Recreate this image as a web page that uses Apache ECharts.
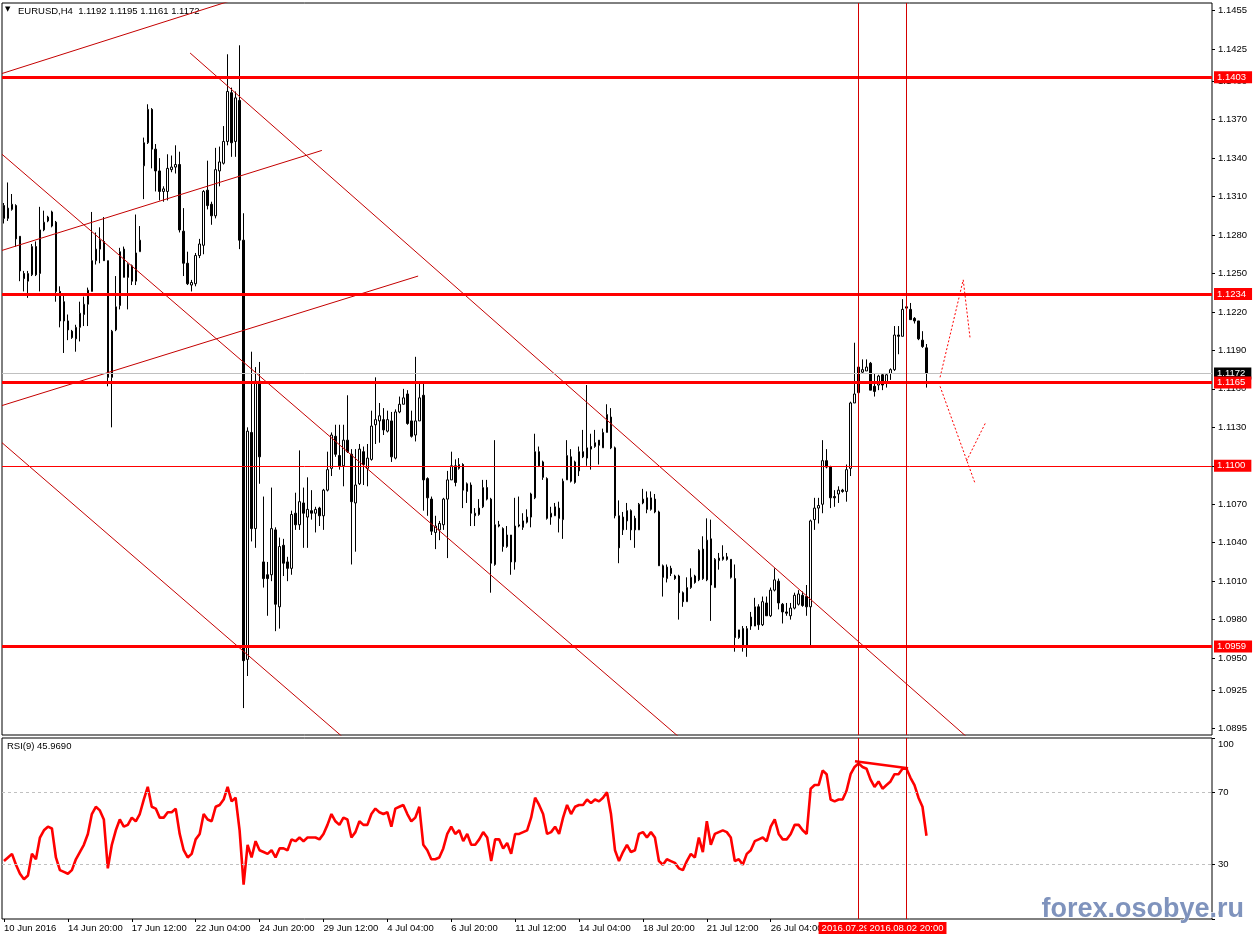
<!DOCTYPE html>
<html><head><meta charset="utf-8">
<script src="https://cdn.jsdelivr.net/npm/echarts@6/dist/echarts.min.js"></script>
<style>html,body{margin:0;padding:0;background:#fff}#c{width:1254px;height:941px}</style>
</head><body><div id="c"></div><script>
const symbolName = 'EURUSD,H4';
const opens = [
1.1303,1.1293,1.1300,1.1303,1.1279,1.1250,1.1244,1.1249,1.1271,1.1250,
1.1284,1.1291,1.1287,1.1290,1.1236,1.1228,1.1213,1.1205,1.1199,1.1208,
1.1218,1.1226,1.1236,1.1260,1.1269,1.1275,1.1260,1.1169,1.1206,1.1225,
1.1269,1.1257,1.1256,1.1244,1.1267,1.1334,1.1352,1.1378,1.1347,1.1330,
1.1314,1.1314,1.1331,1.1333,1.1335,1.1283,1.1258,1.1241,1.1242,1.1264,
1.1272,1.1315,1.1304,1.1295,1.1330,1.1336,1.1353,1.1391,1.1353,1.1385,
1.1276,1.0949,1.1126,1.1051,1.1166,1.1025,1.1015,1.1015,1.1050,1.0990,
1.1038,1.1025,1.1020,1.1063,1.1054,1.1071,1.1060,1.1065,1.1063,1.1067,
1.1061,1.1081,1.1098,1.1123,1.1108,1.1100,1.1120,1.1109,1.1071,1.1086,
1.1111,1.1098,1.1105,1.1132,1.1135,1.1136,1.1127,1.1135,1.1106,1.1142,
1.1148,1.1156,1.1135,1.1124,1.1135,1.1155,1.1090,1.1074,1.1048,1.1050,
1.1054,1.1074,1.1089,1.1100,1.1098,1.1101,1.1080,1.1085,1.1061,1.1062,
1.1068,1.1083,1.1074,1.1023,1.1054,1.1051,1.1037,1.1046,1.1025,1.1053,
1.1052,1.1056,1.1060,1.1075,1.1111,1.1103,1.1090,1.1060,1.1061,1.1067,
1.1058,1.1089,1.1107,1.1087,1.1096,1.1111,1.1106,1.1115,1.1115,1.1120,
1.1114,1.1126,1.1138,1.1114,1.1061,1.1050,1.1057,1.1065,1.1059,1.1050,
1.1071,1.1075,1.1066,1.1074,1.1064,1.1022,1.1012,1.1020,1.1014,1.1014,
1.1001,1.0994,1.1005,1.1014,1.1011,1.1035,1.1011,1.1043,1.1005,1.1026,
1.1027,1.1029,1.1027,1.1012,1.0966,1.0973,1.0959,1.0975,1.0975,1.0990,
1.0976,1.0993,1.0983,1.1003,1.1010,1.0992,1.0986,1.0983,1.0989,1.0992,
1.0999,1.0998,1.0990,1.1058,1.1067,1.1070,1.1104,1.1099,1.1076,1.1078,
1.1081,1.1080,1.1098,1.1149,1.1157,1.1173,1.1174,1.1180,1.1162,1.1163,
1.1171,1.1165,1.1172,1.1175,1.1202,1.1201,1.1224,1.1222,1.1215,1.1213,
1.1198,1.1192];
const closes = [
1.1293,1.1301,1.1304,1.1277,1.1252,1.1246,1.1250,1.1271,1.1249,1.1284,
1.1290,1.1294,1.1298,1.1236,1.1213,1.1213,1.1206,1.1200,1.1208,1.1219,
1.1226,1.1237,1.1260,1.1269,1.1276,1.1260,1.1169,1.1205,1.1224,1.1267,
1.1247,1.1247,1.1244,1.1266,1.1276,1.1352,1.1378,1.1347,1.1330,1.1314,
1.1316,1.1332,1.1333,1.1335,1.1284,1.1258,1.1242,1.1243,1.1264,1.1273,
1.1314,1.1303,1.1295,1.1331,1.1337,1.1353,1.1392,1.1352,1.1387,1.1276,
1.0948,1.1127,1.1051,1.1166,1.1107,1.1012,1.1012,1.1051,1.0992,1.1037,
1.1024,1.1020,1.1062,1.1054,1.1072,1.1063,1.1066,1.1063,1.1066,1.1061,
1.1081,1.1097,1.1124,1.1109,1.1100,1.1120,1.1111,1.1072,1.1085,1.1113,
1.1101,1.1106,1.1131,1.1136,1.1139,1.1128,1.1136,1.1107,1.1142,1.1148,
1.1153,1.1133,1.1123,1.1135,1.1153,1.1089,1.1075,1.1049,1.1053,1.1055,
1.1074,1.1089,1.1100,1.1087,1.1101,1.1081,1.1086,1.1063,1.1063,1.1067,
1.1083,1.1074,1.1024,1.1054,1.1053,1.1037,1.1046,1.1025,1.1053,1.1054,
1.1057,1.1060,1.1078,1.1111,1.1100,1.1091,1.1059,1.1063,1.1068,1.1059,
1.1088,1.1108,1.1088,1.1103,1.1111,1.1107,1.1114,1.1113,1.1118,1.1116,
1.1126,1.1140,1.1114,1.1061,1.1036,1.1060,1.1065,1.1050,1.1050,1.1070,
1.1074,1.1066,1.1075,1.1064,1.1022,1.1013,1.1021,1.1016,1.1012,1.1001,
1.0994,1.1005,1.1013,1.1009,1.1034,1.1012,1.1042,1.1007,1.1027,1.1028,
1.1029,1.1027,1.1013,1.0966,1.0972,1.0959,1.0973,1.0982,1.0990,1.0976,
1.0994,1.0983,1.1003,1.1011,1.0993,1.0986,1.0985,1.0989,1.0999,1.1000,
1.0991,1.0990,1.1057,1.1067,1.1069,1.1104,1.1099,1.1075,1.1075,1.1081,
1.1080,1.1097,1.1149,1.1156,1.1177,1.1175,1.1177,1.1159,1.1158,1.1170,
1.1163,1.1171,1.1175,1.1202,1.1201,1.1222,1.1223,1.1214,1.1213,1.1199,
1.1193,1.1172];
const lows = [
1.1289,1.1291,1.1299,1.1271,1.1244,1.1236,1.1231,1.1248,1.1248,1.1236,
1.1283,1.1290,1.1286,1.1228,1.1208,1.1188,1.1198,1.1199,1.1189,1.1197,
1.1209,1.1209,1.1236,1.1257,1.1258,1.1260,1.1162,1.1130,1.1205,1.1222,
1.1247,1.1222,1.1241,1.1241,1.1267,1.1308,1.1351,1.1332,1.1314,1.1307,
1.1306,1.1307,1.1329,1.1328,1.1282,1.1248,1.1241,1.1236,1.1240,1.1262,
1.1265,1.1300,1.1288,1.1293,1.1318,1.1335,1.1350,1.1341,1.1341,1.1269,
1.0911,1.0936,1.1041,1.1036,1.1086,1.1005,1.0983,1.1010,1.0971,1.0973,
1.1014,1.1010,1.1015,1.1050,1.1050,1.1036,1.1036,1.1058,1.1048,1.1053,
1.1050,1.1080,1.1092,1.1107,1.1097,1.1084,1.1110,1.1023,1.1033,1.1085,
1.1085,1.1084,1.1104,1.1117,1.1118,1.1124,1.1126,1.1103,1.1105,1.1141,
1.1148,1.1132,1.1122,1.1119,1.1135,1.1065,1.1061,1.1046,1.1035,1.1042,
1.1050,1.1028,1.1089,1.1084,1.1097,1.1067,1.1071,1.1053,1.1053,1.1061,
1.1067,1.1073,1.1001,1.1022,1.1052,1.1033,1.1036,1.1015,1.1019,1.1052,
1.1050,1.1055,1.1052,1.1074,1.1099,1.1089,1.1058,1.1054,1.1061,1.1048,
1.1043,1.1089,1.1087,1.1086,1.1092,1.1106,1.1100,1.1097,1.1114,1.1101,
1.1114,1.1126,1.1113,1.1059,1.1024,1.1046,1.1050,1.1042,1.1036,1.1050,
1.1070,1.1063,1.1065,1.1063,1.1022,1.0998,1.1009,1.1014,1.1011,1.0980,
1.0990,1.0994,1.1004,1.1008,1.1010,1.1011,1.1010,1.0979,1.1005,1.1019,
1.1026,1.1026,1.1012,1.0955,1.0965,1.0955,1.0951,1.0972,1.0975,1.0972,
1.0975,1.0983,1.0982,1.1002,1.0988,1.0977,1.0983,1.0980,1.0988,1.0991,
1.0990,1.0983,1.0960,1.1050,1.1055,1.1063,1.1098,1.1067,1.1068,1.1071,
1.1079,1.1072,1.1092,1.1149,1.1156,1.1172,1.1174,1.1159,1.1154,1.1159,
1.1159,1.1161,1.1167,1.1174,1.1187,1.1201,1.1222,1.1214,1.1211,1.1198,
1.1192,1.1161];
const highs = [
1.1305,1.1321,1.1312,1.1304,1.1279,1.1252,1.1252,1.1273,1.1275,1.1302,
1.1299,1.1295,1.1299,1.1291,1.1240,1.1234,1.1218,1.1206,1.1210,1.1228,
1.1232,1.1239,1.1298,1.1282,1.1286,1.1294,1.1260,1.1206,1.1248,1.1270,
1.1271,1.1258,1.1257,1.1296,1.1287,1.1356,1.1382,1.1379,1.1351,1.1340,
1.1318,1.1343,1.1342,1.1350,1.1345,1.1301,1.1267,1.1245,1.1266,1.1277,
1.1315,1.1338,1.1306,1.1348,1.1349,1.1365,1.1421,1.1395,1.1392,1.1428,
1.1297,1.1130,1.1189,1.1177,1.1181,1.1076,1.1025,1.1083,1.1052,1.1044,
1.1043,1.1029,1.1065,1.1079,1.1112,1.1083,1.1091,1.1081,1.1068,1.1068,
1.1082,1.1111,1.1126,1.1132,1.1132,1.1132,1.1155,1.1113,1.1113,1.1117,
1.1115,1.1117,1.1143,1.1169,1.1149,1.1145,1.1143,1.1142,1.1144,1.1154,
1.1160,1.1159,1.1143,1.1185,1.1166,1.1166,1.1091,1.1076,1.1061,1.1057,
1.1075,1.1096,1.1111,1.1105,1.1106,1.1102,1.1087,1.1087,1.1067,1.1074,
1.1089,1.1089,1.1075,1.1120,1.1057,1.1052,1.1053,1.1046,1.1075,1.1076,
1.1063,1.1066,1.1079,1.1125,1.1115,1.1104,1.1091,1.1068,1.1071,1.1072,
1.1090,1.1120,1.1113,1.1104,1.1115,1.1128,1.1163,1.1125,1.1128,1.1120,
1.1129,1.1148,1.1145,1.1115,1.1073,1.1064,1.1071,1.1066,1.1061,1.1071,
1.1082,1.1080,1.1080,1.1078,1.1065,1.1023,1.1023,1.1022,1.1015,1.1015,
1.1002,1.1013,1.1020,1.1015,1.1035,1.1045,1.1059,1.1058,1.1028,1.1032,
1.1038,1.1032,1.1027,1.1023,1.0972,1.0975,1.0975,1.0986,1.0997,1.0992,
1.0998,1.0998,1.1005,1.1020,1.1012,1.0993,1.0993,1.0993,1.1001,1.1003,
1.1002,1.1007,1.1058,1.1075,1.1075,1.1120,1.1113,1.1100,1.1081,1.1084,
1.1082,1.1101,1.1150,1.1196,1.1177,1.1183,1.1183,1.1181,1.1172,1.1171,
1.1172,1.1172,1.1176,1.1209,1.1209,1.1230,1.1226,1.1227,1.1216,1.1213,
1.1205,1.1195];
const rsi = [
32,34,36,30,25,22,24,36,33,45,
49,51,50,34,27,26,25,27,33,37,
41,47,58,62,60,55,28,41,49,55,
51,52,56,54,58,66,73,62,61,56,
56,59,59,61,47,38,34,36,44,47,
58,55,54,62,63,66,73,65,67,49,
19,41,34,43,38,37,36,38,34,39,
39,38,44,43,45,43,45,45,45,44,
47,52,58,54,52,56,55,45,48,54,
52,52,58,61,59,58,59,51,61,62,
63,58,54,56,62,41,38,33,33,34,
39,47,51,47,49,43,47,41,41,44,
48,45,32,44,44,39,42,36,47,47,
48,49,56,67,63,58,47,48,51,47,
56,63,58,62,63,63,66,64,66,65,
67,70,58,38,32,37,41,37,38,47,
48,45,48,45,32,30,33,32,31,28,
27,32,36,34,45,37,54,41,47,48,
49,48,45,32,33,30,36,38,43,44,
45,43,51,55,47,44,44,47,52,52,
49,47,72,74,74,82,80,66,65,66,
66,71,80,84,86,84,83,77,73,76,
72,74,76,80,80,83,83,78,74,67,
62,45.969];
const tickLabels = ['10 Jun 2016','14 Jun 20:00','17 Jun 12:00','22 Jun 04:00','24 Jun 20:00','29 Jun 12:00','4 Jul 04:00','6 Jul 20:00','11 Jul 12:00','14 Jul 04:00','18 Jul 20:00','21 Jul 12:00','26 Jul 04:00'];
const tickStep = 16;
const totalSlots = 303;
const priceTicks = [1.0895,1.0925,1.0950,1.0980,1.1010,1.1040,1.1070,1.1100,1.1130,1.1160,1.1190,1.1220,1.1250,1.1280,1.1310,1.1340,1.1370,1.1400,1.1425,1.1455];
const rsiTicks = [0,30,70,100];
const rsiLevels = [70,30];
const supportLevels = [1.1403,1.1234,1.1165,1.0959];
const minorLevels = [1.1100];
const lastPrice = 1.1172;
const markerBars = [214,226];
const markerLabels = ['2016.07.29 20:00','2016.08.02 20:00'];
const trendLines = [
  [[-0.5,1.1406],[57.0,1.1463]],
  [[-0.5,1.1268],[79.6,1.1346]],
  [[-0.5,1.1147],[103.7,1.1248]],
  [[46.6,1.1422],[240.9,1.0889]],
  [[-0.5,1.1343],[168.8,1.0889]],
  [[-0.5,1.1118],[84.6,1.0889]]
];
const projectionLines = [
  [[234.4,1.1169],[240.2,1.1245],[241.9,1.1200]],
  [[234.4,1.1162],[243.2,1.1086]],
  [[245.7,1.1133],[240.9,1.1103]]
];
const rsiDivergence = [[213.1,87.2],[226.4,83.3]];

const FONT = '"Liberation Sans", Arial, sans-serif';
const FS = 9.5;
const cats = Array.from({length: totalSlots}, (_, i) => String(i));
const candles = opens.map((o, i) => [o, closes[i], lows[i], highs[i]]);
const showTick = (i) => i % tickStep === 0 && i / tickStep < tickLabels.length;
const last = opens.length - 1;
const header = symbolName + '  ' + [opens[last], highs[last], lows[last], closes[last]].map(v => v.toFixed(4)).join(' ');

const tag = (bg) => ({show: true, position: 'end', distance: 2, formatter: p => Number(p.value).toFixed(4),
  color: '#fff', backgroundColor: bg, padding: [1, 6, 0, 3], fontSize: FS, fontFamily: FONT, lineHeight: 11});

const mainLines = [{yAxis: lastPrice, lineStyle: {color: '#c0c0c0', width: 1, type: 'solid'}, label: tag('#000000')}];
supportLevels.forEach(v => mainLines.push({yAxis: v, lineStyle: {color: '#ff0000', width: 3, type: 'solid'}, label: tag('#ff0000')}));
minorLevels.forEach(v => mainLines.push({yAxis: v, lineStyle: {color: '#ff0000', width: 1, type: 'solid'}, label: tag('#ff0000')}));
markerBars.forEach(b => mainLines.push({xAxis: b, lineStyle: {color: '#d40000', width: 1, type: 'solid'}, label: {show: false}}));

const rsiLines = rsiLevels.map(v => ({yAxis: v, lineStyle: {color: '#c0c0c0', width: 1, type: [3, 3]}, label: {show: false}}));
markerBars.forEach((b, k) => rsiLines.push({xAxis: b, lineStyle: {color: '#d40000', width: 1, type: 'solid'},
  label: {show: true, position: 'start', distance: 3, formatter: markerLabels[k], color: '#fff', backgroundColor: '#ff0000',
    padding: [1, 3, 0, 3], fontSize: FS, fontFamily: FONT, lineHeight: 11}}));

const series = [
  {type: 'candlestick', xAxisIndex: 0, yAxisIndex: 0, data: candles, barWidth: 2,
   itemStyle: {color: '#ffffff', color0: '#000000', borderColor: '#000000', borderColor0: '#000000', borderWidth: 1},
   markLine: {symbol: ['none', 'none'], precision: 4, silent: true, animation: false, data: mainLines}},
  {type: 'line', xAxisIndex: 1, yAxisIndex: 1, data: rsi, showSymbol: false, symbol: 'none',
   lineStyle: {color: '#ff0000', width: 2.6}, z: 3,
   markLine: {symbol: ['none', 'none'], precision: 4, silent: true, animation: false, data: rsiLines}},
  {type: 'line', xAxisIndex: 3, yAxisIndex: 1, data: rsiDivergence, showSymbol: false, symbol: 'none',
   lineStyle: {color: '#ff0000', width: 2.5}, z: 4}
];
trendLines.forEach(seg => series.push({type: 'line', xAxisIndex: 2, yAxisIndex: 0, data: seg, showSymbol: false, symbol: 'none',
  lineStyle: {color: '#c40000', width: 1}, silent: true, z: 3, clip: true}));
projectionLines.forEach(seg => series.push({type: 'line', xAxisIndex: 2, yAxisIndex: 0, data: seg, showSymbol: false, symbol: 'none',
  lineStyle: {color: '#ff0000', width: 1, type: [2, 2]}, silent: true, z: 3, clip: true}));

const option = {
  animation: false,
  backgroundColor: '#ffffff',
  textStyle: {fontFamily: FONT},
  grid: [
    {left: 2, top: 3, width: 1210, height: 732, show: true, borderColor: '#000', borderWidth: 1, backgroundColor: 'transparent'},
    {left: 2, top: 738, width: 1210, height: 181, show: true, borderColor: '#000', borderWidth: 1, backgroundColor: 'transparent'}
  ],
  xAxis: [
    {type: 'category', gridIndex: 0, data: cats, boundaryGap: true, axisLine: {show: false, onZero: false}, axisTick: {show: false}, axisLabel: {show: false}, splitLine: {show: false}},
    {type: 'category', gridIndex: 1, data: cats, boundaryGap: true, position: 'bottom', axisLine: {show: false, onZero: false},
     axisTick: {show: true, alignWithLabel: true, interval: (i) => showTick(i), length: 3, lineStyle: {color: '#000'}},
     axisLabel: {interval: (i) => showTick(i), formatter: (v, i) => tickLabels[Math.round(i / tickStep)], align: 'left', margin: 4, fontSize: FS, fontFamily: FONT, color: '#000'},
     splitLine: {show: false}},
    {type: 'value', gridIndex: 0, min: -0.5, max: totalSlots - 0.5, show: false, axisLine: {onZero: false}},
    {type: 'value', gridIndex: 1, min: -0.5, max: totalSlots - 0.5, show: false, axisLine: {onZero: false}}
  ],
  yAxis: [
    {type: 'value', gridIndex: 0, position: 'right', min: 1.0890, max: 1.1461, axisLine: {show: false, onZero: false},
     axisTick: {show: true, customValues: priceTicks, length: 3, lineStyle: {color: '#000'}},
     axisLabel: {customValues: priceTicks, formatter: v => Number(v).toFixed(4), margin: 6, fontSize: FS, fontFamily: FONT, color: '#000'},
     splitLine: {show: false}},
    {type: 'value', gridIndex: 1, position: 'right', min: 0, max: 100, axisLine: {show: false, onZero: false},
     axisTick: {show: true, customValues: rsiTicks, length: 3, lineStyle: {color: '#000'}},
     axisLabel: {customValues: rsiTicks, margin: 6, fontSize: FS, fontFamily: FONT, color: '#000',
       formatter: v => v === 100 ? '{t|100}' : (v === 0 ? '{b|0}' : String(v)),
       rich: {t: {padding: [12, 0, 0, 0], fontSize: FS, fontFamily: FONT, color: '#000'}, b: {padding: [0, 0, 12, 0], fontSize: FS, fontFamily: FONT, color: '#000'}}},
     splitLine: {show: false}}
  ],
  graphic: [
    {type: 'text', left: 5, top: 6, style: {text: '\u25BC', font: '7px "DejaVu Sans"', fill: '#000'}},
    {type: 'text', left: 18, top: 6, style: {text: header, font: FS + 'px ' + FONT, fill: '#000'}},
    {type: 'text', left: 7, top: 741, style: {text: 'RSI(9) ' + rsi[last].toFixed(4), font: FS + 'px ' + FONT, fill: '#000'}},
    {type: 'text', left: 1041, top: 896, z: 100, style: {text: 'forex.osobye.ru', font: 'bold 27px "Liberation Sans"', fill: '#7f93bd',
      stroke: '#ffffff', lineWidth: 1, shadowColor: 'rgba(0,0,0,0.45)', shadowBlur: 2, shadowOffsetX: 1, shadowOffsetY: 1}}
  ],
  series: series
};
const chart = echarts.init(document.getElementById('c'), null, {renderer: 'canvas', width: 1254, height: 941});
chart.setOption(option);
</script></body></html>
